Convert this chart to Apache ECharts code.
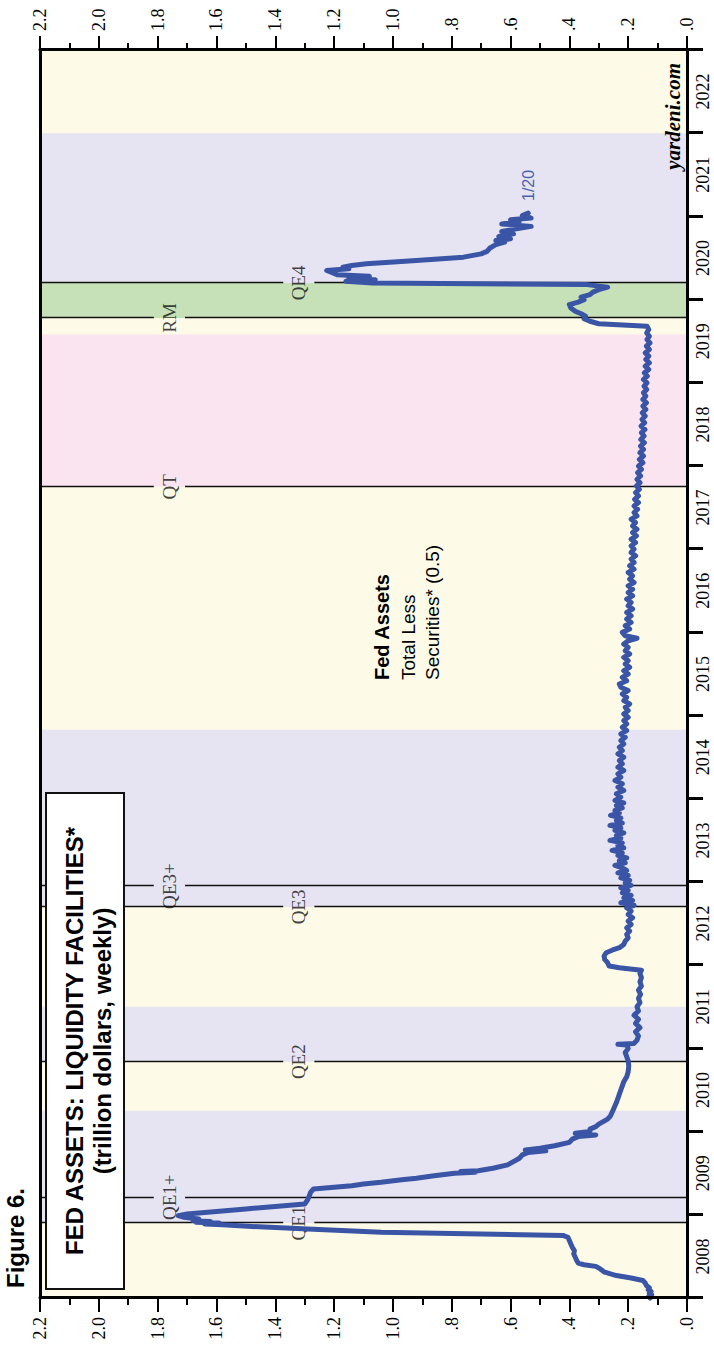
<!DOCTYPE html>
<html>
<head>
<meta charset="utf-8">
<script src="https://cdn.jsdelivr.net/npm/echarts@6/dist/echarts.min.js"></script>
<style>
html,body{margin:0;padding:0;background:#fff;}
#wrap{position:relative;width:714px;height:1348px;overflow:hidden;background:#fff;}
#chart{position:absolute;left:0;top:0;width:1348px;height:714px;transform-origin:0 0;transform:translateY(1348px) rotate(-90deg);}
</style>
</head>
<body>
<div id="wrap"><div id="chart"></div></div>
<script>
// ---------- DATA ----------
const yearLabels = ['2008','2009','2010','2011','2012','2013','2014','2015','2016','2017','2018','2019','2020','2021','2022'];
const valueTicks = [0, 0.2, 0.4, 0.6, 0.8, 1.0, 1.2, 1.4, 1.6, 1.8, 2.0, 2.2];
// decimal-year dates and values (trillion dollars, x0.5 scale)
const dates = [
2008.00,2008.02,2008.04,2008.06,2008.08,2008.10,2008.12,2008.15,2008.18,2008.21,2008.24,2008.27,2008.31,2008.35,2008.38,2008.40,2008.42,2008.45,2008.49,2008.53,
2008.57,2008.61,2008.65,2008.69,2008.73,2008.75,2008.77,2008.79,2008.83,2008.86,2008.88,2008.89,2008.90,2008.91,2008.92,2008.93,2008.95,2008.97,2008.99,2009.01,
2009.04,2009.07,2009.10,2009.13,2009.18,2009.22,2009.27,2009.31,2009.33,2009.35,2009.37,2009.39,2009.42,2009.44,2009.47,2009.50,2009.51,2009.52,2009.53,2009.56,
2009.60,2009.64,2009.68,2009.72,2009.75,2009.77,2009.78,2009.80,2009.83,2009.87,2009.91,2009.94,2009.96,2009.98,2010.00,2010.03,2010.06,2010.09,2010.12,2010.15,
2010.19,2010.23,2010.27,2010.31,2010.35,2010.40,2010.45,2010.50,2010.55,2010.60,2010.66,2010.72,2010.79,2010.85,2010.90,2010.95,2011.00,2011.04,2011.05,2011.06,
2011.10,2011.15,2011.20,2011.25,2011.30,2011.35,2011.40,2011.45,2011.50,2011.55,2011.60,2011.65,2011.70,2011.75,2011.80,2011.85,2011.90,2011.94,2011.97,2011.99,
2012.03,2012.07,2012.11,2012.15,2012.18,2012.21,2012.25,2012.29,2012.33,2012.37,2012.41,2012.45,2012.49,2012.53,2012.57,2012.61,2012.65,2012.69,2012.72,2012.75,
2012.78,2012.81,2012.84,2012.87,2012.90,2012.93,2012.96,2012.99,2013.02,2013.05,2013.08,2013.11,2013.14,2013.17,2013.20,2013.23,2013.26,2013.29,2013.32,2013.35,
2013.38,2013.41,2013.44,2013.47,2013.50,2013.53,2013.56,2013.59,2013.62,2013.65,2013.68,2013.71,2013.74,2013.77,2013.80,2013.83,2013.86,2013.89,2013.92,2013.95,
2013.98,2014.02,2014.06,2014.10,2014.14,2014.18,2014.22,2014.26,2014.30,2014.34,2014.38,2014.42,2014.46,2014.50,2014.54,2014.58,2014.62,2014.66,2014.70,2014.74,
2014.78,2014.82,2014.86,2014.90,2014.94,2014.98,2015.02,2015.06,2015.10,2015.14,2015.18,2015.22,2015.26,2015.30,2015.34,2015.38,2015.42,2015.46,2015.50,2015.54,
2015.58,2015.62,2015.66,2015.70,2015.74,2015.78,2015.82,2015.86,2015.90,2015.93,2015.96,2016.00,2016.04,2016.08,2016.12,2016.16,2016.20,2016.24,2016.28,2016.32,
2016.36,2016.40,2016.44,2016.48,2016.52,2016.56,2016.60,2016.64,2016.68,2016.72,2016.76,2016.80,2016.84,2016.88,2016.92,2016.96,2017.00,2017.04,2017.08,2017.12,
2017.16,2017.20,2017.24,2017.28,2017.32,2017.36,2017.40,2017.44,2017.48,2017.52,2017.56,2017.60,2017.64,2017.68,2017.72,2017.76,2017.80,2017.84,2017.88,2017.92,
2017.96,2018.00,2018.04,2018.08,2018.12,2018.16,2018.20,2018.24,2018.28,2018.32,2018.36,2018.40,2018.44,2018.48,2018.52,2018.56,2018.60,2018.64,2018.68,2018.72,
2018.76,2018.80,2018.84,2018.88,2018.92,2018.96,2019.00,2019.04,2019.08,2019.12,2019.16,2019.20,2019.24,2019.28,2019.32,2019.36,2019.40,2019.44,2019.48,2019.52,
2019.56,2019.60,2019.64,2019.68,2019.71,2019.74,2019.77,2019.80,2019.83,2019.86,2019.90,2019.94,2019.97,2020.00,2020.03,2020.06,2020.09,2020.12,2020.15,2020.18,
2020.20,2020.22,2020.24,2020.26,2020.28,2020.30,2020.33,2020.35,2020.37,2020.39,2020.41,2020.43,2020.47,2020.51,2020.55,2020.58,2020.62,2020.66,2020.69,2020.71,
2020.73,2020.76,2020.79,2020.82,2020.85,2020.88,2020.91,2020.94,2020.96,2020.98,2021.01,2021.04
];
const values = [
0.125,0.130,0.120,0.128,0.122,0.132,0.128,0.138,0.142,0.150,0.190,0.240,0.280,0.295,0.310,0.350,0.370,0.375,0.380,0.385,
0.383,0.390,0.395,0.400,0.405,0.420,0.700,1.040,1.290,1.480,1.580,1.640,1.590,1.670,1.620,1.680,1.660,1.710,1.730,1.700,
1.600,1.500,1.400,1.300,1.290,1.285,1.280,1.270,1.200,1.140,1.100,1.040,0.970,0.920,0.860,0.790,0.720,0.770,0.710,0.660,
0.610,0.590,0.570,0.560,0.540,0.480,0.550,0.500,0.450,0.400,0.390,0.370,0.310,0.380,0.330,0.330,0.310,0.300,0.285,0.270,
0.260,0.255,0.250,0.245,0.240,0.235,0.230,0.225,0.220,0.215,0.205,0.200,0.198,0.200,0.205,0.210,0.200,0.205,0.235,0.180,
0.170,0.165,0.175,0.160,0.175,0.165,0.180,0.165,0.170,0.160,0.165,0.158,0.165,0.155,0.160,0.155,0.160,0.155,0.230,0.265,
0.270,0.280,0.282,0.275,0.255,0.230,0.215,0.210,0.200,0.205,0.195,0.205,0.190,0.200,0.185,0.200,0.190,0.205,0.180,0.225,
0.185,0.215,0.190,0.220,0.200,0.225,0.190,0.210,0.195,0.225,0.200,0.235,0.205,0.220,0.245,0.210,0.230,0.205,0.235,0.220,
0.255,0.215,0.235,0.220,0.262,0.225,0.240,0.215,0.245,0.225,0.262,0.220,0.240,0.225,0.260,0.230,0.245,0.220,0.240,0.215,
0.245,0.225,0.240,0.215,0.235,0.220,0.245,0.225,0.235,0.215,0.235,0.220,0.230,0.215,0.235,0.220,0.230,0.215,0.225,0.210,
0.225,0.205,0.220,0.205,0.215,0.200,0.215,0.200,0.210,0.195,0.215,0.205,0.220,0.200,0.225,0.230,0.205,0.220,0.200,0.215,
0.195,0.210,0.200,0.215,0.195,0.210,0.200,0.215,0.200,0.170,0.210,0.220,0.195,0.210,0.190,0.205,0.190,0.205,0.185,0.200,
0.190,0.205,0.185,0.200,0.185,0.200,0.180,0.195,0.185,0.200,0.180,0.195,0.180,0.190,0.175,0.190,0.180,0.190,0.175,0.190,
0.172,0.185,0.170,0.185,0.175,0.190,0.170,0.180,0.168,0.180,0.165,0.178,0.165,0.175,0.162,0.172,0.160,0.170,0.158,0.168,
0.155,0.165,0.150,0.162,0.148,0.160,0.148,0.158,0.145,0.157,0.146,0.155,0.143,0.156,0.144,0.153,0.142,0.152,0.140,0.150,
0.138,0.150,0.140,0.148,0.137,0.146,0.136,0.148,0.135,0.145,0.130,0.142,0.128,0.140,0.130,0.142,0.128,0.138,0.126,0.136,
0.128,0.137,0.130,0.136,0.300,0.330,0.350,0.345,0.360,0.380,0.395,0.400,0.370,0.350,0.360,0.330,0.320,0.300,0.270,0.340,
1.070,1.160,1.060,1.150,1.080,1.190,1.210,1.225,1.150,1.170,1.140,1.090,0.920,0.760,0.700,0.680,0.670,0.650,0.620,0.650,
0.600,0.640,0.590,0.630,0.580,0.530,0.630,0.570,0.600,0.530,0.560,0.540
];
// policy periods (shaded) and event lines
const bandStarts = [2008.90, 2010.84, 2012.70, 2017.75, 2019.78, 2020.20];
const bandEnds   = [2010.25, 2011.50, 2014.83, 2019.58, 2020.20, 2022.00];
const bandColors = ['#E6E4F2', '#E6E4F2', '#E6E4F2', '#F9E4F0', '#C6E0B7', '#E6E4F2'];
const eventNames  = ['QE1', 'QE1+', 'QE2', 'QE3', 'QE3+', 'QT', 'RM', 'QE4'];
const eventDates  = [2008.90, 2009.21, 2010.84, 2012.70, 2012.95, 2017.75, 2019.78, 2020.20];
const eventLabelAt = [1.32, 1.76, 1.32, 1.32, 1.76, 1.76, 1.76, 1.32];
// texts
const figureText = 'Figure 6.';
const titleLines = ['FED ASSETS: LIQUIDITY FACILITIES*', '(trillion dollars, weekly)'];
const seriesTitle = 'Fed Assets';
const seriesSub = ['Total Less', 'Securities* (0.5)'];
const sourceText = 'yardeni.com';
const lastLabel = '1/20';

// ---------- BUILD ----------
const SERIF = '"Liberation Serif","DejaVu Serif",serif';
const SANS = '"Liberation Sans",Arial,sans-serif';
const lineData = dates.map((d, i) => [d, values[i]]);
const areaData = bandStarts.map((s, i) => [{ xAxis: s, itemStyle: { color: bandColors[i] } }, { xAxis: bandEnds[i] }]);
const GAP = 0.053;
const lineSegs = [];
eventDates.forEach((d, i) => {
  lineSegs.push([{ coord: [d, 0] }, { coord: [d, eventLabelAt[i] - GAP] }]);
  lineSegs.push([{ coord: [d, eventLabelAt[i] + GAP] }, { coord: [d, 2.2] }]);
});
const fmt = v => {
  if (Math.abs(v) < 1e-9) return '.0';
  if (v < 0.999) return '.' + Math.round(v * 10);
  return v.toFixed(1);
};
const valueAxis = pos => ({
  type: 'value', position: pos, min: 0, max: 2.2, interval: 0.2, z: 10,
  axisLine: { show: true, lineStyle: { color: '#000', width: 3 } },
  axisTick: { show: true, length: 14, lineStyle: { color: '#000', width: 2 } },
  minorTick: { show: true, splitNumber: 2, length: 7, lineStyle: { color: '#000', width: 2 } },
  splitLine: { show: false },
  axisLabel: { margin: 19, fontFamily: SERIF, fontSize: 18, color: '#000', formatter: fmt }
});

const chart = echarts.init(document.getElementById('chart'), null, { renderer: 'svg', width: 1348, height: 714 });
chart.setOption({
  animation: false,
  backgroundColor: '#fff',
  grid: { left: 50, right: 50, top: 40, bottom: 27, show: true, backgroundColor: '#FDFBE8', borderWidth: 0 },
  xAxis: [
    { type: 'value', min: 2008, max: 2023, show: false },
    { type: 'category', data: yearLabels, position: 'bottom', boundaryGap: true, z: 10,
      axisLine: { show: true, lineStyle: { color: '#000', width: 3 } },
      axisTick: { show: true, length: 16, lineStyle: { color: '#000', width: 3 } },
      axisLabel: { margin: 7, fontFamily: SERIF, fontSize: 18, color: '#000' } },
    { type: 'category', data: yearLabels, position: 'top', boundaryGap: true, z: 10,
      axisLine: { show: true, lineStyle: { color: '#000', width: 3 } },
      axisTick: { show: false }, axisLabel: { show: false } }
  ],
  yAxis: [valueAxis('left'), valueAxis('right')],
  series: [
    { name: 'bands', type: 'line', xAxisIndex: 0, yAxisIndex: 0, data: lineData, silent: true, z: 1,
      showSymbol: false, lineStyle: { opacity: 0 },
      markArea: { silent: true, data: areaData } },
    { name: 'events', type: 'line', xAxisIndex: 0, yAxisIndex: 0, data: lineData, silent: true, z: 2,
      showSymbol: false, lineStyle: { opacity: 0 },
      markLine: { silent: true, symbol: ['none', 'none'], label: { show: false },
        lineStyle: { color: '#111', width: 1.4, type: 'solid' }, data: lineSegs } },
    { name: 'eventLabels', type: 'scatter', xAxisIndex: 0, yAxisIndex: 0, symbolSize: 0, z: 3, silent: true,
      data: eventDates.map((d, i) => [d, eventLabelAt[i], eventNames[i]]),
      label: { show: true, position: 'inside', formatter: p => p.data[2], fontFamily: SERIF, fontSize: 19, color: '#111' } },
    { name: 'Fed Assets', type: 'line', xAxisIndex: 0, yAxisIndex: 0, data: lineData, z: 5,
      showSymbol: false, smooth: false,
      lineStyle: { color: '#3A55A6', width: 5, join: 'round', cap: 'round' } }
  ],
  graphic: [
    { type: 'text', left: 60, top: 3, z: 20, style: { text: figureText, font: 'bold 24px ' + SANS, fill: '#000' } },
    { type: 'rect', shape: { x: 59, y: 46, width: 496, height: 78 }, z: 20,
      style: { fill: '#fff', stroke: '#111', lineWidth: 2 } },
    { type: 'text', x: 307, y: 74, z: 21, style: { text: titleLines[0], font: 'bold 24px ' + SANS, fill: '#000', align: 'center', verticalAlign: 'middle' } },
    { type: 'text', x: 307, y: 102, z: 21, style: { text: titleLines[1], font: 'bold 24px ' + SANS, fill: '#000', align: 'center', verticalAlign: 'middle' } },
    { type: 'text', x: 668, y: 382, z: 21, style: { text: seriesTitle, font: 'bold 20px ' + SANS, fill: '#000', verticalAlign: 'middle' } },
    { type: 'text', x: 668, y: 408, z: 21, style: { text: seriesSub[0], font: '19px ' + SANS, fill: '#000', verticalAlign: 'middle' } },
    { type: 'text', x: 668, y: 432, z: 21, style: { text: seriesSub[1], font: '19px ' + SANS, fill: '#000', verticalAlign: 'middle' } },
    { type: 'text', x: 1285, y: 673, z: 21, style: { text: sourceText, font: 'italic bold 21px ' + SERIF, fill: '#000', align: 'right', verticalAlign: 'middle' } },
    { type: 'text', x: 1147, y: 528, z: 21, style: { text: lastLabel, font: '16px ' + SANS, fill: '#4A62B0', verticalAlign: 'middle' } }
  ]
});
</script>
</body>
</html>
